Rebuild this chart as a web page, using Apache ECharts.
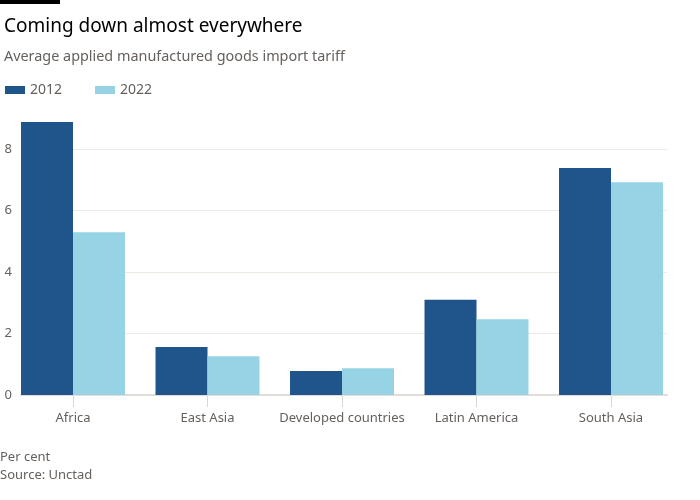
<!DOCTYPE html>
<html><head><meta charset="utf-8">
<script src="https://cdn.jsdelivr.net/npm/echarts@6/dist/echarts.min.js"></script>
<style>html,body{margin:0;padding:0;background:#fff}#c{width:700px;height:500px}</style>
</head><body><div id="c"></div>
<script>
const categories = ['Africa', 'East Asia', 'Developed countries', 'Latin America', 'South Asia'];
const values2012 = [8.88, 1.56, 0.78, 3.10, 7.38];
const values2022 = [5.29, 1.26, 0.87, 2.46, 6.92];
const seriesNames = ['2012', '2022'];
const yTicks = [0, 2, 4, 6, 8];

const FONT = '"Noto Sans", sans-serif';
const GREY = '#66605c';
const chart = echarts.init(document.getElementById('c'));
const gTop = 149, gBottom = 105;
chart.setOption({
  animation: false,
  textStyle: { fontFamily: FONT },
  title: [
    { text: 'Coming down almost everywhere', left: -1, top: 12, textStyle: { fontFamily: FONT, fontSize: 19, fontWeight: 'normal', color: '#000' } },
    { text: 'Average applied manufactured goods import tariff', left: -1, top: 45, textStyle: { fontFamily: FONT, fontSize: 14.4, fontWeight: 'normal', color: GREY } }
  ],
  legend: {
    left: 0, top: 78, icon: 'rect', itemWidth: 20, itemHeight: 8, itemGap: 33,
    textStyle: { fontFamily: FONT, fontSize: 14, color: GREY },
    data: seriesNames
  },
  grid: [
    { left: 21, right: 33, top: gTop, bottom: gBottom },
    { left: 5.75, right: 21.75, top: gTop, bottom: gBottom },
    { left: 73, right: 88.7, top: 396, bottom: 93 }
  ],
  xAxis: [
    { type: 'category', gridIndex: 0, data: categories,
      axisLine: { show: true, lineStyle: { color: '#e2ddd8', width: 2 } },
      axisTick: { show: false }, axisLabel: { show: false } },
    { type: 'category', gridIndex: 1, data: categories,
      axisLine: { show: false }, axisTick: { show: false },
      axisLabel: { interval: 0, margin: 17, fontSize: 13, color: GREY, fontFamily: FONT } },
    { type: 'category', gridIndex: 2, data: categories, boundaryGap: false,
      axisLine: { show: false }, axisTick: { show: false }, axisLabel: { show: false },
      splitLine: { show: true, interval: 0, lineStyle: { color: '#dcd6d0', width: 1 } } }
  ],
  yAxis: [
    { type: 'value', gridIndex: 0, min: yTicks[0], max: yTicks[yTicks.length - 1], interval: 2,
      axisLine: { show: false }, axisTick: { show: false },
      axisLabel: { margin: 9, fontSize: 13, color: GREY, fontFamily: FONT, align: 'right' },
      splitLine: { lineStyle: { color: '#efe9e3' } } },
    { type: 'value', gridIndex: 1, min: yTicks[0], max: yTicks[yTicks.length - 1], interval: 2,
      axisLine: { show: false }, axisTick: { show: false }, axisLabel: { show: false }, splitLine: { show: false } },
    { type: 'value', gridIndex: 2, min: 0, max: 1,
      axisLine: { show: false }, axisTick: { show: false }, axisLabel: { show: false }, splitLine: { show: false } }
  ],
  series: [
    { name: seriesNames[0], type: 'bar', xAxisIndex: 1, yAxisIndex: 1, data: values2012, clip: false,
      barGap: '0%', barCategoryGap: '22.7%', itemStyle: { color: '#1f558a' } },
    { name: seriesNames[1], type: 'bar', xAxisIndex: 1, yAxisIndex: 1, data: values2022, clip: false,
      barGap: '0%', barCategoryGap: '22.7%', itemStyle: { color: '#96d3e5' } }
  ],
  graphic: [
    { type: 'rect', left: 0, top: 0, shape: { width: 60, height: 4 }, style: { fill: '#000' } },
    { type: 'text', left: 0, top: 451, style: { text: 'Per cent', font: '13px ' + FONT, fill: GREY } },
    { type: 'text', left: 0, top: 469, style: { text: 'Source: Unctad', font: '13px ' + FONT, fill: GREY } }
  ]
});
</script></body></html>
